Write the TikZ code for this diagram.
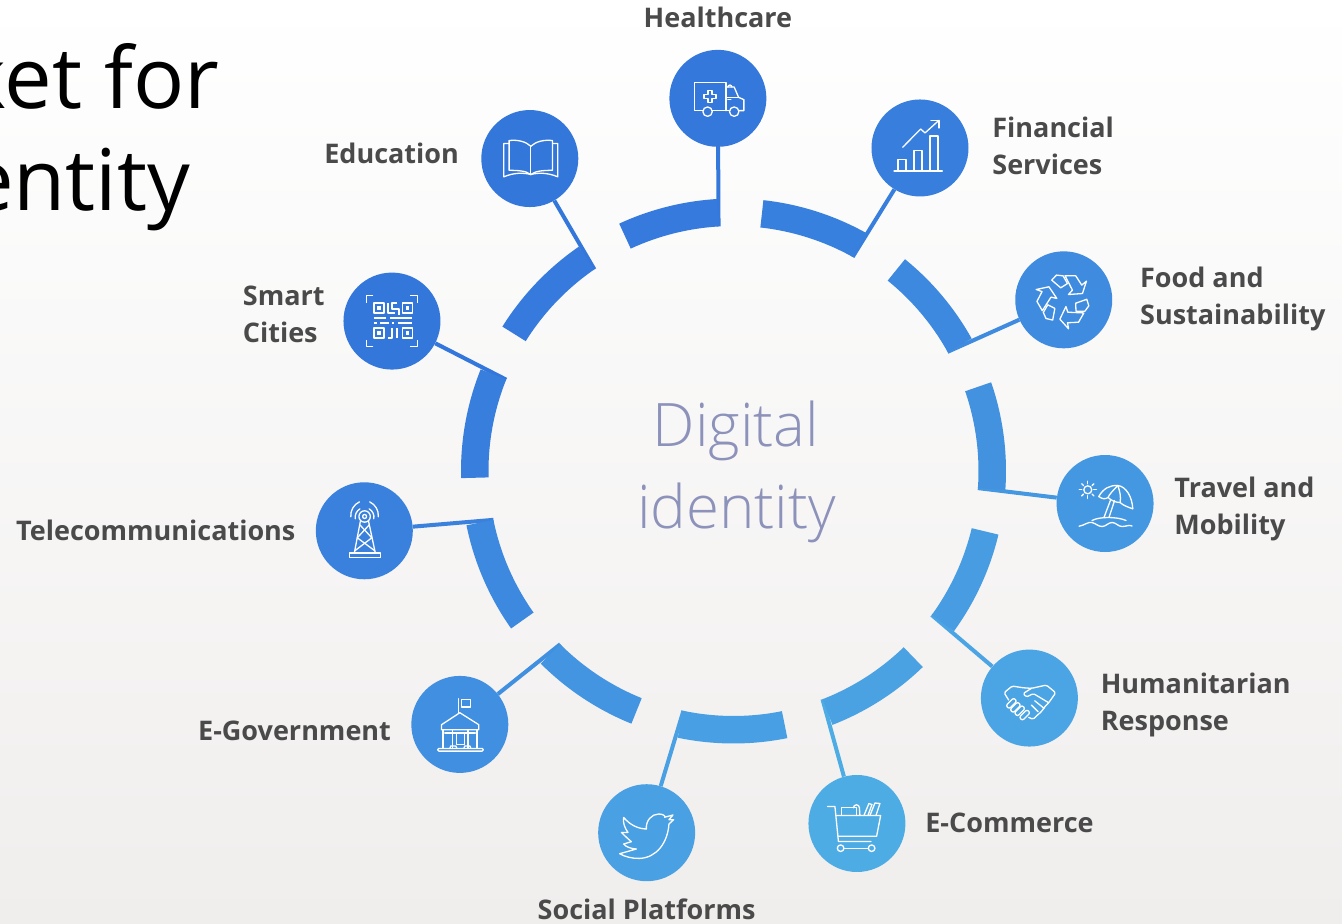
\documentclass[tikz,border=0pt]{standalone}
\usepackage{fontspec}
\setmainfont{Open Sans}
\newfontfamily\lightfont{Open Sans Light}
\usetikzlibrary{positioning}
\definecolor{bluetop}{HTML}{3375DB}
\definecolor{bluebot}{HTML}{50AFE6}
\definecolor{lblgray}{HTML}{4A4A4A}
\definecolor{coretext}{HTML}{8C92BA}
\definecolor{backbot}{HTML}{F0EEED}
\tikzset{
  hub/.style={circle,minimum size=97pt,inner sep=0pt,fill=#1},
  spoke/.style={line width=4pt,#1},
  lbl/.style={font=\bfseries\fontsize{27}{37}\selectfont,text=lblgray,align=left,inner sep=0pt},
  ico/.style={white,line width=1.3pt,line join=round,line cap=round}
}
\begin{document}
\begin{tikzpicture}[x=1pt,y=1pt]
    \useasboundingbox (-733.5,-453) rectangle (608.5,471);
    \clip (-733.5,-453) rectangle (608.5,471);
    \shade[top color=white,bottom color=backbot] (-733.5,-453) rectangle (608.5,471);

    \colorlet{c1}{bluebot!5!bluetop}
    \colorlet{c2}{bluebot!15!bluetop}
    \colorlet{c3}{bluebot!38!bluetop}
    \colorlet{c4}{bluebot!60!bluetop}
    \colorlet{c5}{bluebot!82!bluetop}
    \colorlet{c6}{bluebot!94!bluetop}
    \colorlet{c7}{bluebot!75!bluetop}
    \colorlet{c8}{bluebot!45!bluetop}
    \colorlet{c9}{bluebot!20!bluetop}
    \colorlet{c10}{bluebot!4!bluetop}
    \colorlet{c11}{bluebot!3!bluetop}

    \node[hub=c1](health) at (92.4:373){};
    \node[hub=c2](finance) at (60:373){};
    \node[hub=c3](food) at (27.4:372){};
    \node[hub=c4](travel) at (-5:373){};
    \node[hub=c5](human) at (-37.5:373){};
    \node[hub=c6](ecomm) at (-70.7:373.5){};
    \node[hub=c7](social) at (-103.5:372){};
    \node[hub=c8](egov) at (-137.2:373){};
    \node[hub=c9](telecom) at (-170.8:374){};
    \node[hub=c10](smart) at (156.3:373){};
    \node[hub=c11](edu) at (123.1:373){};

    \coordinate(thealth) at (93.5:245);
    \coordinate(tfinance) at (60.9:245);
    \coordinate(tfood) at (29.1:245);
    \coordinate(ttravel) at (-4:245);
    \coordinate(thuman) at (-36:245);
    \coordinate(tecomm) at (-68.7:245);
    \coordinate(tsocial) at (-101.8:245);
    \coordinate(tegov) at (-135:245);
    \coordinate(ttelecom) at (-168.5:245);
    \coordinate(tsmart) at (158.1:245);
    \coordinate(tedu) at (124.6:245);

    \draw[spoke=c1](health)--(thealth);
    \draw[spoke=c2](finance)--(tfinance);
    \draw[spoke=c3](food)--(tfood);
    \draw[spoke=c4](travel)--(ttravel);
    \draw[spoke=c5](human)--(thuman);
    \draw[spoke=c6](ecomm)--(tecomm);
    \draw[spoke=c7](social)--(tsocial);
    \draw[spoke=c8](egov)--(tegov);
    \draw[spoke=c9](telecom)--(ttelecom);
    \draw[spoke=c10](smart)--(tsmart);
    \draw[spoke=c11](edu)--(tedu);

    \foreach \sa/\sb/\sc in {114.8/93.5/8,83.7/60.9/18,51/29.1/35,19/-4/50,-13.5/-36/68,-46/-68.7/78,-78.6/-101.8/72,-112/-135/55,-144.7/-168.5/35,-178.5/-201.9/17,-212/-235.4/8}
        \fill[bluebot!\sc!bluetop](\sa:272.5) arc[start angle=\sa,end angle=\sb,radius=272.5]--(\sb:245) arc[start angle=\sb,end angle=\sa,radius=245]--cycle;

    \node[lbl,above=22pt of health](lhealth){Healthcare};
    \node[lbl,right=23.5pt of finance,yshift=2pt](lfinance){Financial\\Services};
    \node[lbl,right=27.5pt of food,yshift=1pt](lfood){Food and\\Sustainability};
    \node[lbl,right=20.5pt of travel,yshift=-5pt](ltravel){Travel and\\Mobility};
    \node[lbl,right=22.5pt of human,yshift=-7pt](lhuman){Humanitarian\\Response};
    \node[lbl,right=19.5pt of ecomm,yshift=1pt](lecomm){E-Commerce};
    \node[lbl,below=17pt of social](lsocial){Social Platforms};
    \node[lbl,left=20pt of egov,yshift=-6pt](legov){E-Government};
    \node[lbl,left=20pt of telecom](ltelecom){Telecommunications};
    \node[lbl,left=18.5pt of smart,yshift=6.5pt](lsmart){Smart\\Cities};
    \node[lbl,left=22pt of edu,yshift=5pt](ledu){Education};

    \node[anchor=base,inner sep=0pt,text=coretext,font=\lightfont\fontsize{60}{60}\selectfont](core1) at (2.5,24){Digital};
    \node[anchor=base,inner sep=0pt,text=coretext,font=\lightfont\fontsize{60}{60}\selectfont](core2) at (3,-57){identity};
    \node[anchor=base east,inner sep=0pt,text=black,font=\fontsize{85}{85}\selectfont](head1) at (-514,362){ket for};
    \node[anchor=base east,inner sep=0pt,text=black,font=\fontsize{85}{85}\selectfont](head2) at (-543,260){entity};

    % ambulance
    \begin{scope}[shift={(health)},ico]
        \draw(-15,-12.3)--(-23.3,-12.3)--(-23.3,15.7)--(8,15.7)--(8,-12.3);
        \draw(8,11.3)--(16.3,11.3)--(20.7,1)--(26,-1.3)--(26,-12.3)--(21,-12.3);
        \draw(11.5,-12.3)--(-5.5,-12.3);
        \draw(8,1)--(20.7,1);
        \draw(-10.3,-13.3)circle(4.7);
        \draw(16.3,-13.3)circle(4.7);
        \draw(-10,7.7)--(-6,7.7)--(-6,3.7)--(-2,3.7)--(-2,-0.3)--(-6,-0.3)--(-6,-4.3)--(-10,-4.3)--(-10,-0.3)--(-14,-0.3)--(-14,3.7)--(-10,3.7)--cycle;
        \draw(10,-1.3)--(13,-1.3);
        \draw(10,11.3)arc[start angle=180,end angle=0,radius=2];
    \end{scope}

    % chart
    \begin{scope}[shift={(finance)},ico]
        \draw(-26,-23)--(22.3,-23);
        \draw(-22,-23)--(-22,-11.3)--(-14,-11.3)--(-14,-23);
        \draw(-6,-23)--(-6,-2.3)--(2,-2.3)--(2,-23);
        \draw(10,-23)--(10,12)--(18,12)--(18,-23);
        \draw(-17.3,0.7)--(0.7,19)--(5,15)--(19,27.7);
        \draw(11,27.7)--(19,27.7)--(19,20);
    \end{scope}

    % recycle
    \begin{scope}[shift={(food)},ico]
        \foreach \rr in {0,120,240}{
            \draw[rotate=\rr](-12,19.7)--(-7.3,24.7)--(-0.7,24)--(3.7,16.3)--(-3,12)--cycle;
            \draw[rotate=\rr](1.3,24)--(12,24)--(18,14.7)--(22.7,18.7)--(18.7,6.3)--(4.7,5.3)--(8.7,9.7)--cycle;
        }
    \end{scope}

    % beach
    \begin{scope}[shift={(travel)},ico]
        \draw(-17.3,13.7)circle(4);
        \foreach \rr in {0,45,...,315}
            \draw(-17.3,13.7)++(\rr:6)--++(\rr:2.6);
        \draw(-6.3,7)..controls(-2,15)and(5,18.5)..(12.7,18)..controls(21,17)and(27,7)..(27.7,-5.3);
        \draw(-6.3,7)..controls(-3,4.5)and(0,4)..(3,6)..controls(6,3)and(11,1)..(15,1)..controls(18,-2)and(24,-4)..(27.7,-5.3);
        \draw(12.7,18)..controls(8,13)and(4,9)..(3,6);
        \draw(12.7,18)..controls(15,12)and(16,6)..(15,1);
        \draw(-1,-13.7)--(5.5,3.5);
        \draw(-1,-13.7)--(4,-13.7);
        \draw(4,-13.7)--(9.5,3);
        \draw(-13,-17)..controls(-6,-13)and(12,-13)..(21,-17);
        \draw(-26,-22.7)..controls(-21,-22)and(-17,-18)..(-13,-19)..controls(-9,-20)and(-7,-23)..(-3,-23)..controls(1,-23)and(3,-19)..(7,-19)..controls(11,-19)and(13,-23)..(17,-23)..controls(21,-23)and(24,-21)..(27,-22.5);
    \end{scope}

    % handshake
    \begin{scope}[shift={(human)},ico]
        \begin{scope}[rounded corners=1.5pt]
            \draw(-20.7,-2)--(-25.3,5.3)--(-17.3,12)--(-6.3,10.3)--(2,9.7)--(17,13)--(26.3,5.3)--(19.3,-4.7)--(15.3,-8.7)--(12,-13.7)--(8,-17)--(3.7,-21.3)--(-0.7,-19.3);
            \draw(2,9.7)--(-6.3,4.5)--(-3,1)--(4,4.5)--(19.3,-4.7);
        \end{scope}
        \draw(2,-7)--(8.7,-13.7);
        \draw(5.3,-2.7)--(14.7,-10.3);
        \foreach \fx/\fy in {-18/-5.3,-14/-9.3,-9.7/-12.7,-4.7/-17}
            \draw[rounded corners=2pt,rotate around={45:(\fx,\fy)}](\fx-5.5,\fy-2.3)rectangle(\fx+5.5,\fy+2.3);
    \end{scope}

    % cart
    \begin{scope}[shift={(ecomm)},ico]
        \draw(-29.3,17)--(-22,17)--(-18.5,-18)--(14,-18);
        \draw(-20.5,8)--(23.7,8)--(19.7,-12.7)--(-19,-12.7);
        \draw(-15.3,8)--(-15.3,15.7)--(-0.3,15.7)--(-0.3,8);
        \draw(-3.5,15.7)arc[start angle=180,end angle=0,radius=3]--(3,8);
        \draw(7,8)--(12,20)--(15,19)--(11,8);
        \draw(13,8)--(18,20.5)--(23,20)--(19,8);
        \draw(-16.3,-24.7)circle(3.3);
        \draw(14.7,-24.7)circle(3.3);
        \draw(-13,-24.7)--(11.4,-24.7);
    \end{scope}

    % bird
    \begin{scope}[shift={(social)},ico]
        \draw(-23,15.3)..controls(-16,7)and(-8,4)..(-0.3,3.7)..controls(-1,12)and(5,18.7)..(12,18.7)..controls(16,18.7)and(19,17)..(18,15.5)--(26.3,17.7)--(22.3,13)--(27,13)--(22.3,8.7)..controls(21,-10)and(10,-25)..(-7,-25.7)..controls(-14,-26)and(-22,-24)..(-27,-21)--(-10.3,-16.3)..controls(-16,-16)and(-21,-14)..(-23,-11.3)--(-15.3,-9)..controls(-20,-5)and(-24,-1)..(-25.3,0.3)--(-18.7,0.3)..controls(-22,5)and(-24,10)..(-23,15.3)--cycle;
    \end{scope}

    % government
    \begin{scope}[shift={(egov)},ico]
        \draw(-1,11.3)--(-1,25.7);
        \draw(1.7,24.7)rectangle(10.7,17.3);
        \draw(-18.3,-5.3)--(-18.3,-0.3)--(0,11.7)--(19,-0.3)--(19,-5.3)--cycle;
        \draw(-16.7,-5.3)--(-16.7,-24);
        \draw(17.3,-5.3)--(17.3,-24);
        \draw(-7.3,-5.3)--(-7.3,-24);
        \draw(8.3,-5.3)--(8.3,-24);
        \draw(-15,-8.5)--(15.5,-8.5);
        \draw(-3.5,-8.5)--(-3.5,-20)--(4.5,-20)--(4.5,-8.5);
        \draw(-10,-24)--(-9,-21.5)--(-4,-21.5)--(-3,-24);
        \draw(4,-24)--(5,-21.5)--(10,-21.5)--(11,-24);
        \draw[rounded corners=1pt](-22,-24)rectangle(23.3,-26.7);
    \end{scope}

    % book
    \begin{scope}[shift={(edu)},ico]
        \draw(1,12.3)--(1,-16);
        \draw(1,12.3)..controls(-4,17)and(-12,19)..(-20.7,18)--(-20.7,-11.7)..controls(-12,-12)and(-4,-12)..(1,-16);
        \draw(1,12.3)..controls(6,17)and(14,19)..(22.7,18)--(22.7,-11.7)..controls(14,-12)and(6,-12)..(1,-16);
        \draw(-20.7,15)--(-26,15)--(-26,-18.3)..controls(-16,-14)and(-6,-14)..(1,-16);
        \draw(22.7,15)--(28,15)--(28,-18.3)..controls(18,-14)and(8,-14)..(1,-16);
    \end{scope}

    % qr
    \begin{scope}[shift={(smart)},ico,line width=1.7pt,line cap=butt]
        \draw(-18.5,25.5)--(-25.5,25.5)--(-25.5,18.5);
        \draw(18.5,25.5)--(25.5,25.5)--(25.5,18.5);
        \draw(-18.5,-25.5)--(-25.5,-25.5)--(-25.5,-18.5);
        \draw(18.5,-25.5)--(25.5,-25.5)--(25.5,-18.5);
        \foreach \qx/\qy in {-13/13,15.5/13,-13/-12,15.5/-12}{
            \draw(\qx-5,\qy-5)rectangle(\qx+5,\qy+5);
            \fill[white](\qx-1.8,\qy-1.8)rectangle(\qx+1.8,\qy+1.8);
        }
        \draw(-18,3)--(-6,3);
        \draw(-2,3)--(20,3);
        \draw(-18,-2)--(-15,-2);
        \draw(-12,-2)--(-3,-2);
        \draw(0,-2)--(2,-2);
        \draw(6,-2)--(20,-2);
        \draw(-4,18)--(-4,8)--(3,8);
        \draw(5,18)--(0,18)--(0,12)--(7,12)--(7,6);
        \draw(-4,-17)--(0,-17)--(0,-7);
        \draw(5,-7)--(5,-17);
    \end{scope}

    % tower
    \begin{scope}[shift={(telecom)},ico]
        \draw(-15,-22.3)rectangle(16,-26.7);
        \draw(-10,-22.3)--(-4,9.3);
        \draw(11,-22.3)--(4.3,9.3);
        \draw(0.3,14.3)circle(5.7);
        \draw(0.3,14.3)circle(2);
        \draw(-4.5,6)--(7.5,-7)--(-9.5,-20);
        \draw(5,6)--(-7,-7)--(10.5,-20);
        \draw(-9,12)arc[start angle=190,end angle=120,radius=9.5];
        \draw(9.5,12)arc[start angle=-10,end angle=60,radius=9.5];
        \draw(-13.5,14)arc[start angle=185,end angle=115,radius=15];
        \draw(14,14)arc[start angle=-5,end angle=65,radius=15];
    \end{scope}
\end{tikzpicture}
\end{document}
